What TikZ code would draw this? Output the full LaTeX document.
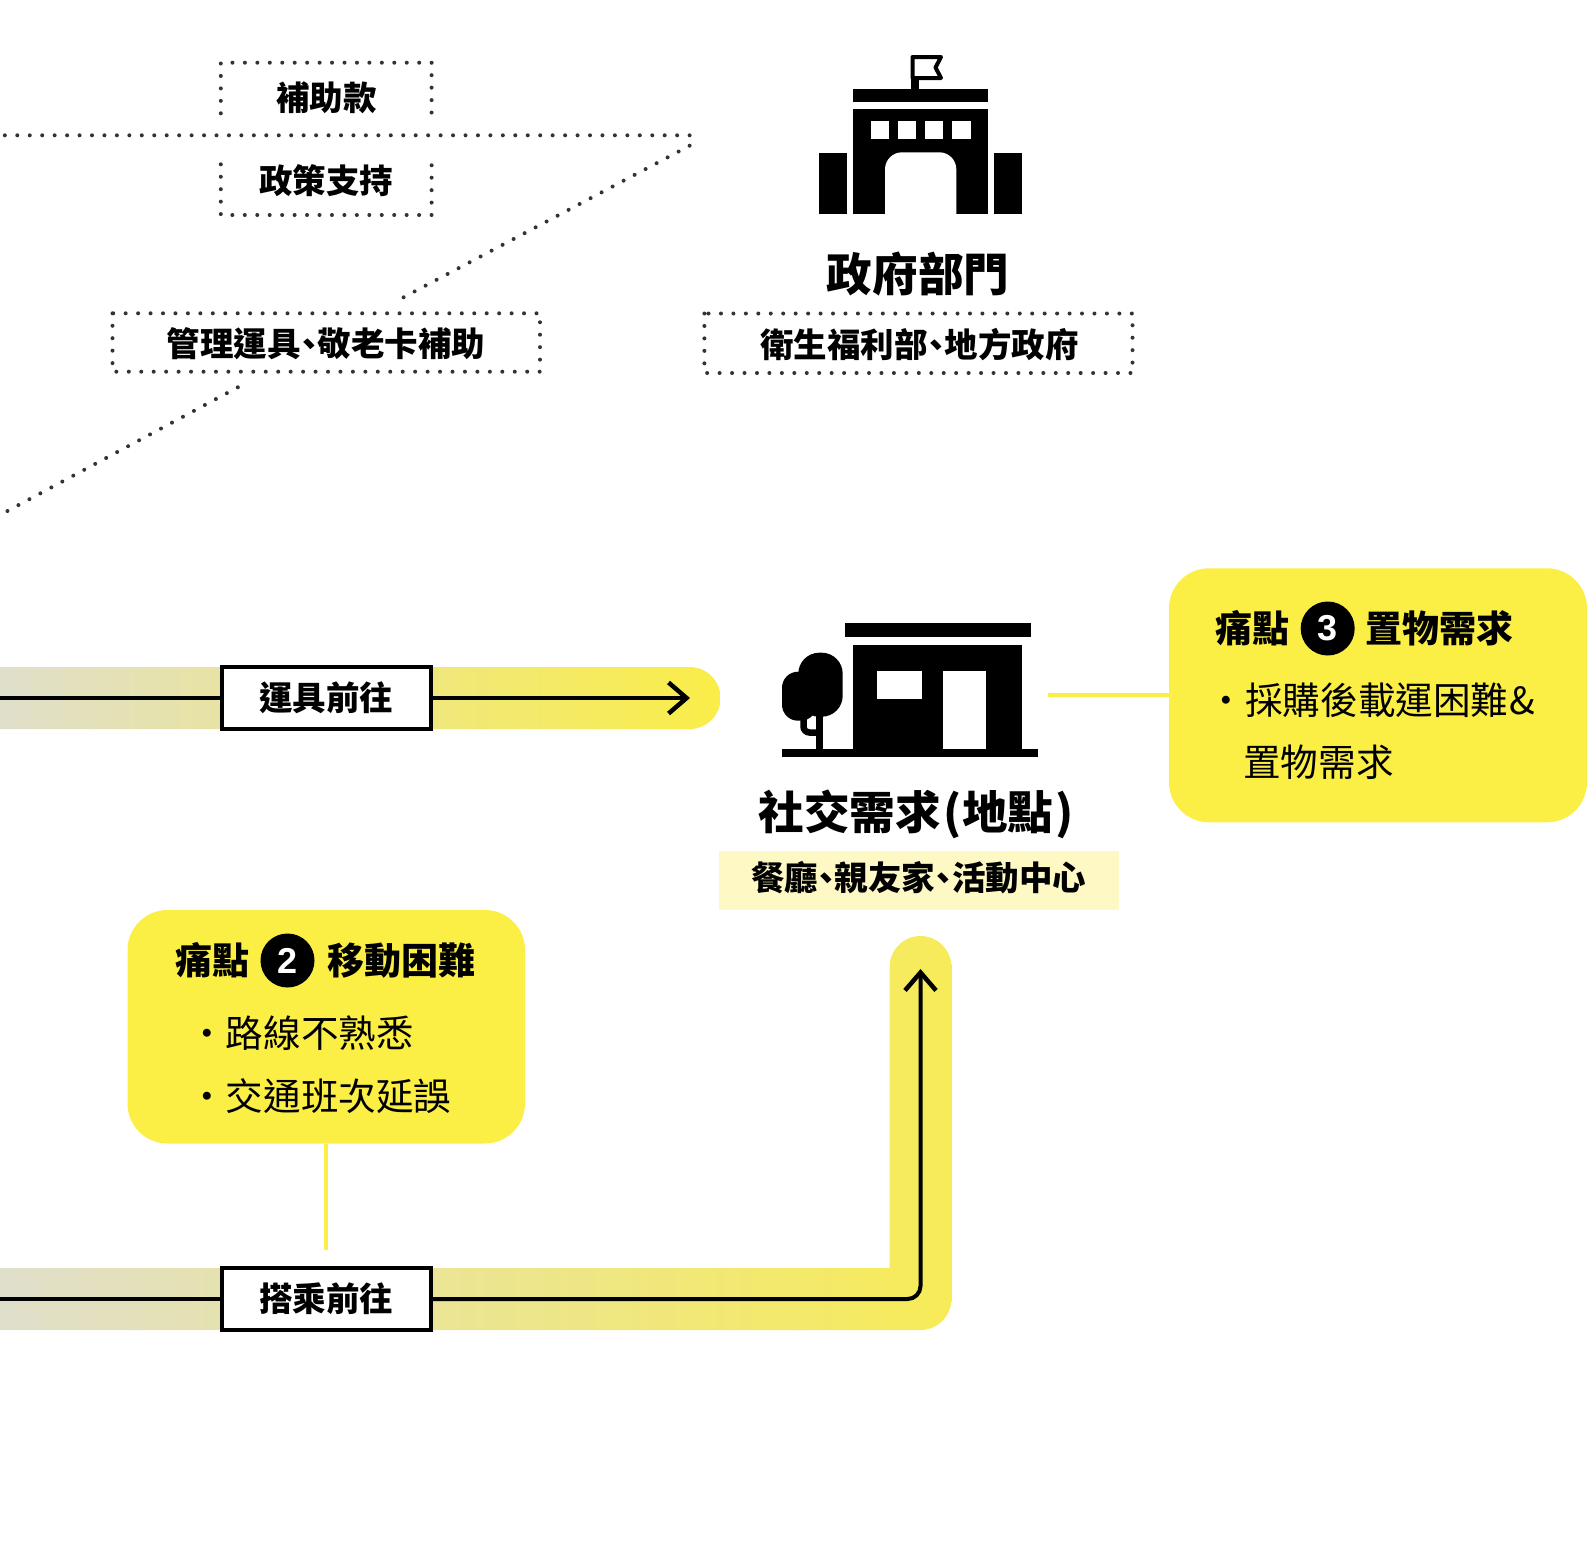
\documentclass[tikz,border=0pt]{standalone}
\usepackage{fontspec}
\setmainfont{Noto Sans CJK TC}[RawFeature=+palt]
\newfontfamily\digitfont{Liberation Sans}
\usetikzlibrary{arrows.meta}
\definecolor{callout}{HTML}{FBEE45}
\definecolor{barL}{HTML}{E0DFCB}
\definecolor{barA}{HTML}{FAED48}
\definecolor{barB}{HTML}{F7EB58}
\definecolor{barM}{HTML}{EDE69E}
\definecolor{pale}{HTML}{FDF8C4}
\definecolor{dotc}{HTML}{333333}
\tikzset{
  x=1pt,y=-1pt,
  bold/.style={font=\bfseries\fontsize{#1}{#1}\selectfont,inner sep=0pt,text height=#1*0.8pt,text depth=#1*0.04pt,text=black},
  body/.style={font=\fontsize{#1}{#1}\selectfont,inner sep=0pt,text height=#1*0.8pt,text depth=#1*0.04pt,text=black},
  dots/.style={draw=dotc,line width=4pt,line cap=round,dash pattern=on 0pt off 12.45pt},
  flow/.style={draw=black,line width=4pt},
  tip/.style={-{Straight Barb[length=18pt,width=31pt,line width=4.5pt]}},
  labelbox/.style={bold=33.5,draw=black,line width=4.5pt,fill=white,minimum width=209pt,minimum height=62pt},
  tie/.style={draw=callout,line width=4pt},
  badge/.style={circle,fill=black,text=white,font=\digitfont\bfseries\fontsize{36}{36}\selectfont,inner sep=0pt,minimum size=54pt},
  panel/.style={fill=callout,rounded corners=40pt},
}
\begin{document}
\begin{tikzpicture}
\useasboundingbox (0,0) rectangle (1587,1561);
% government icon
\fill (819,152.7) rectangle (847.3,214);
\fill (993.7,152.7) rectangle (1021.7,214);
\fill (852.7,109.3) rectangle (988.3,214);
\fill (852.7,89) rectangle (988.3,102.3);
\fill[white] (871,121) rectangle (889,139);
\fill[white] (898,121) rectangle (916,139);
\fill[white] (925.3,121) rectangle (943.3,139);
\fill[white] (952.3,121) rectangle (970.7,139);
\fill[white,rounded corners=17pt] (885,216) [sharp corners] -- (885,214) [rounded corners=17pt] -- (885,152.3) -- (956.3,152.3) [sharp corners] -- (956.3,214) -- cycle;
\fill (911,76) rectangle (919,90);
\draw[line width=4pt,line join=round] (912.5,57) -- (941,57) -- (935.5,67.5) -- (941,78) -- (912.5,78) -- cycle;
% dotted boxes and lines
\draw[dots] (220.8,113.3) -- (220.8,62.7) -- (431.6,62.7) -- (431.6,113.3);
\draw[dots] (220.8,164.3) -- (220.8,215) -- (431.6,215) -- (431.6,164.3);
\draw[dots] (112.5,313.3) rectangle (540,371.7);
\draw[dots] (704.4,313.5) rectangle (1132.5,373);
\coordinate (longL) at (0,135.3);
\coordinate (longR) at (689.6,135.3);
\coordinate (diagA) at (689.6,145.7);
\coordinate (diagB) at (401.7,298.3);
\coordinate (diagC) at (237.8,387.3);
\coordinate (diagD) at (0,515);
\draw[dots] (longR) -- (longL);
\draw[dots] (diagA) -- (diagB);
\draw[dots] (diagC) -- (diagD);
\node[bold=33.5] (tSub) at (326.3,98) {補助款};
\node[bold=33.5] (tPol) at (326.3,181) {政策支持};
\node[bold=33.5] (tMgmt) at (326,344) {管理運具、敬老卡補助};
\node[bold=33.5] (tWelf) at (919.5,345) {衛生福利部、地方政府};
\node[bold=45.6] (tGov) at (918,274) {政府部門};
% bars
\path[left color=barL,middle color=barM,right color=barA,rounded corners=31pt] (0,667) [sharp corners] -- (689.6,667) [rounded corners=31pt] -- (720.6,667) -- (720.6,729) [sharp corners] -- (689.6,729) -- (0,729) -- cycle;
\path[left color=barL,middle color=barM,right color=barB] (0,1268) -- (889.6,1268) [rounded corners=31pt] -- (889.6,936) -- (951.4,936) -- (951.4,1330) -- (860,1330) [sharp corners] -- (0,1330) -- cycle;
% store icon
\fill (845,623) rectangle (1030.7,636.7);
\fill (853.3,644.7) rectangle (1022,749);
\fill (782,749) rectangle (1038.3,757);
\fill[white] (877,671) rectangle (921.7,698.7);
\fill[white] (943,671) rectangle (986,749);
\fill[rounded corners=21pt] (798.3,652.7) rectangle (842.7,716.7);
\fill[rounded corners=16pt] (782,671.7) rectangle (816.7,720.7);
\fill (816.3,712) rectangle (823.3,749);
\draw[line width=6.5pt,rounded corners=6pt] (820,732.5) -- (803.5,732.5) -- (803.5,715);
\node[bold=45.6] (tSoc) at (916,812) {社交需求\hspace{3pt}(地點\hspace{2pt})};
\node[bold=33,fill=pale,minimum width=400pt,minimum height=59pt] (tPlace) at (918.5,880.5) {};
\node[bold=33.5] (tPlaceT) at (918.5,878) {餐廳、親友家、活動中心};
% flows
\coordinate (flowA0) at (0,698);
\coordinate (flowA1) at (690,698);
\coordinate (flowB0) at (0,1299);
\coordinate (flowTurn) at (920.5,1299);
\coordinate (flowB1) at (920.5,969);
\node[labelbox] (lblA) at (326.3,698) {運具前往};
\node[labelbox] (lblB) at (326.3,1299) {搭乘前往};
\draw[flow] (flowA0) -- (lblA);
\draw[flow,tip] (lblA) -- (flowA1);
\draw[flow] (flowB0) -- (lblB);
\draw[flow,tip,rounded corners=13pt] (lblB) -- (flowTurn) -- (flowB1);
% callout 3
\coordinate (tie3) at (1048,695);
\path[panel] (1169,568.3) rectangle (1587,822.3);
\coordinate (p3) at (1169,695);
\draw[tie] (tie3) -- (p3);
\node[bold=37] (h3a) at (1252.5,628.5) {痛點};
\node[badge] (b3) at (1327.7,628.5) {3};
\node[bold=37] (h3b) at (1439,628.5) {置物需求};
\node[body=37.6] (d3) at (1226.7,700) {•};
\node[body=37.6,anchor=west] (t3a) at (1245,700) {採購後載運困難\hspace{1pt}\&};
\node[body=37.6,anchor=west] (t3b) at (1243,762) {置物需求};
% callout 2
\path[panel] (127.5,910) rectangle (525,1143.5);
\coordinate (p2) at (326,1143.5);
\coordinate (tie2) at (326,1250);
\draw[tie] (p2) -- (tie2);
\node[bold=37] (h2a) at (212,960.5) {痛點};
\node[badge] (b2) at (287.5,960.5) {2};
\node[bold=37] (h2b) at (401,960.5) {移動困難};
\node[body=37.6] (d2a) at (207.5,1033) {•};
\node[body=37.6,anchor=west] (t2a) at (225.7,1033) {路線不熟悉};
\node[body=37.6] (d2b) at (207.5,1096) {•};
\node[body=37.6,anchor=west] (t2b) at (225.7,1096) {交通班次延誤};
\end{tikzpicture}
\end{document}
